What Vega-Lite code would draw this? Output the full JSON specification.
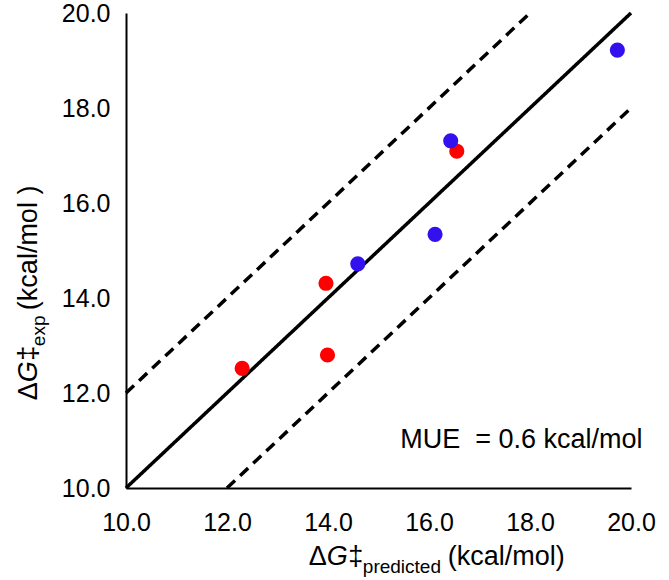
{
  "$schema": "https://vega.github.io/schema/vega-lite/v6.json",
  "width": 505,
  "height": 475,
  "autosize": {"type": "none"},
  "padding": {"left": 126, "top": 13, "right": 38, "bottom": 92},
  "background": "white",
  "config": {
    "view": {"stroke": null},
    "font": "Liberation Sans",
    "text": {"font": "Liberation Sans", "color": "black"}
  },
  "datasets": {
    "points": [
      {"series": "A", "predicted": 12.30, "exp": 12.52},
      {"series": "A", "predicted": 13.96, "exp": 14.31},
      {"series": "A", "predicted": 13.99, "exp": 12.80},
      {"series": "A", "predicted": 16.55, "exp": 17.09},
      {"series": "B", "predicted": 14.59, "exp": 14.72},
      {"series": "B", "predicted": 16.43, "exp": 17.31},
      {"series": "B", "predicted": 16.12, "exp": 15.34},
      {"series": "B", "predicted": 19.73, "exp": 19.22}
    ],
    "lines": [
      {"line": "solid", "predicted": 10, "exp": 10},
      {"line": "solid", "predicted": 20, "exp": 20},
      {"line": "upper", "predicted": 10, "exp": 12},
      {"line": "upper", "predicted": 18, "exp": 20},
      {"line": "lower", "predicted": 12, "exp": 10},
      {"line": "lower", "predicted": 20, "exp": 18}
    ],
    "one": [{}]
  },
  "layer": [
    {
      "data": {"name": "lines"},
      "mark": {"type": "line", "color": "black", "strokeWidth": 3.5, "clip": false},
      "encoding": {
        "x": {"field": "predicted", "type": "quantitative",
          "scale": {"domain": [10, 20], "nice": false, "zero": false},
          "axis": {"title": null, "values": [10, 12, 14, 16, 18, 20], "format": ".1f",
            "grid": false, "ticks": false, "tickSize": 0, "domainColor": "black", "domainWidth": 2,
            "labelFontSize": 25, "labelColor": "black", "labelPadding": 22, "labelFont": "Liberation Sans", "labelFlush": false, "labelOverlap": false}},
        "y": {"field": "exp", "type": "quantitative",
          "scale": {"domain": [10, 20], "nice": false, "zero": false},
          "axis": {"title": null, "values": [10, 12, 14, 16, 18, 20], "format": ".1f",
            "grid": false, "ticks": false, "tickSize": 0, "domainColor": "black", "domainWidth": 2,
            "labelFontSize": 25, "labelColor": "black", "labelPadding": 16, "labelFont": "Liberation Sans", "labelFlush": false, "labelOverlap": false}},
        "detail": {"field": "line"},
        "strokeDash": {"field": "line", "type": "nominal", "legend": null,
          "scale": {"domain": ["solid", "upper", "lower"], "range": [[1, 0], [11, 7], [11, 7]]}}
      }
    },
    {
      "data": {"name": "points"},
      "mark": {"type": "circle", "size": 230, "opacity": 1},
      "encoding": {
        "x": {"field": "predicted", "type": "quantitative"},
        "y": {"field": "exp", "type": "quantitative"},
        "color": {"field": "series", "type": "nominal", "legend": null,
          "scale": {"domain": ["A", "B"], "range": ["#FF0000", "#3311EE"]}}
      }
    },
    {
      "data": {"name": "one"},
      "mark": {"type": "text", "text": "MUE\u00a0\u00a0= 0.6 kcal/mol", "fontSize": 27, "align": "left", "baseline": "alphabetic"},
      "encoding": {"x": {"datum": 15.43, "type": "quantitative"}, "y": {"datum": 10.84, "type": "quantitative"}}
    },
    {
      "data": {"name": "one"},
      "mark": {"type": "text", "text": "Δ", "fontSize": 27, "align": "left", "baseline": "alphabetic"},
      "encoding": {"x": {"datum": 13.62, "type": "quantitative"}, "y": {"datum": 8.38, "type": "quantitative"}}
    },
    {
      "data": {"name": "one"},
      "mark": {"type": "text", "text": "G", "fontSize": 27, "fontStyle": "italic", "align": "left", "baseline": "alphabetic", "dx": 18},
      "encoding": {"x": {"datum": 13.62, "type": "quantitative"}, "y": {"datum": 8.38, "type": "quantitative"}}
    },
    {
      "data": {"name": "one"},
      "mark": {"type": "text", "text": "‡", "fontSize": 27, "align": "left", "baseline": "alphabetic", "dx": 39.5},
      "encoding": {"x": {"datum": 13.62, "type": "quantitative"}, "y": {"datum": 8.38, "type": "quantitative"}}
    },
    {
      "data": {"name": "one"},
      "mark": {"type": "text", "text": "predicted", "fontSize": 19, "align": "left", "baseline": "alphabetic", "dx": 54, "dy": 8},
      "encoding": {"x": {"datum": 13.62, "type": "quantitative"}, "y": {"datum": 8.38, "type": "quantitative"}}
    },
    {
      "data": {"name": "one"},
      "mark": {"type": "text", "text": "(kcal/mol)", "fontSize": 27, "align": "left", "baseline": "alphabetic", "dx": 139},
      "encoding": {"x": {"datum": 13.62, "type": "quantitative"}, "y": {"datum": 8.38, "type": "quantitative"}}
    },
    {
      "data": {"name": "one"},
      "mark": {"type": "text", "text": "Δ", "fontSize": 27, "align": "left", "baseline": "alphabetic", "angle": 270},
      "encoding": {"x": {"datum": 8.24, "type": "quantitative"}, "y": {"datum": 11.85, "type": "quantitative"}}
    },
    {
      "data": {"name": "one"},
      "mark": {"type": "text", "text": "G", "fontSize": 27, "fontStyle": "italic", "align": "left", "baseline": "alphabetic", "angle": 270, "dx": 18},
      "encoding": {"x": {"datum": 8.24, "type": "quantitative"}, "y": {"datum": 11.85, "type": "quantitative"}}
    },
    {
      "data": {"name": "one"},
      "mark": {"type": "text", "text": "‡", "fontSize": 27, "align": "left", "baseline": "alphabetic", "angle": 270, "dx": 39.5},
      "encoding": {"x": {"datum": 8.24, "type": "quantitative"}, "y": {"datum": 11.85, "type": "quantitative"}}
    },
    {
      "data": {"name": "one"},
      "mark": {"type": "text", "text": "exp", "fontSize": 19, "align": "left", "baseline": "alphabetic", "angle": 270, "dx": 54, "dy": 8},
      "encoding": {"x": {"datum": 8.24, "type": "quantitative"}, "y": {"datum": 11.85, "type": "quantitative"}}
    },
    {
      "data": {"name": "one"},
      "mark": {"type": "text", "text": "(kcal/mol )", "fontSize": 27, "align": "left", "baseline": "alphabetic", "angle": 270, "dx": 90},
      "encoding": {"x": {"datum": 8.24, "type": "quantitative"}, "y": {"datum": 11.85, "type": "quantitative"}}
    }
  ]
}
